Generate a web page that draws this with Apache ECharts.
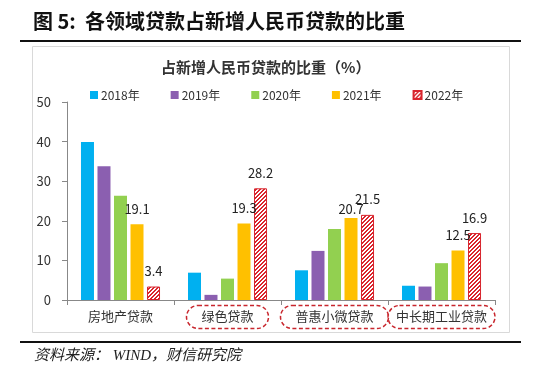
<!DOCTYPE html>
<html>
<head>
<meta charset="utf-8">
<script src="https://cdn.jsdelivr.net/npm/echarts@6/dist/echarts.min.js"></script>
<style>
html, body { margin: 0; padding: 0; background: #fff; }
#container { width: 538px; height: 375px; }
</style>
</head>
<body>
<div id="container"></div>
<script>
// 数据
var categories = ['房地产贷款', '绿色贷款', '普惠小微贷款', '中长期工业贷款'];
var years = ['2018年', '2019年', '2020年', '2021年', '2022年'];
var v2018 = [39.9, 6.9, 7.5, 3.6];
var v2019 = [33.8, 1.3, 12.4, 3.4];
var v2020 = [26.3, 5.4, 17.9, 9.3];
var v2021 = [19.1, 19.3, 20.7, 12.5];
var v2022 = [3.4, 28.2, 21.5, 16.9];
var yTicks = [0, 10, 20, 30, 40, 50];
var circled = ['绿色贷款', '普惠小微贷款', '中长期工业贷款'];	// 红色虚线圈出的类目

var font = '"Noto Sans CJK SC", "Noto Sans", sans-serif';

// 2022年斜线填充
function hatch() {
	var s = 4;
	var cv = document.createElement('canvas');
	cv.width = s; cv.height = s;
	var ctx = cv.getContext('2d');
	var img = ctx.createImageData(s, s);
	for (var y = 0; y < s; y++) {
		for (var x = 0; x < s; x++) {
			var red = ((x + y) % s) < 2;
			var i = (y * s + x) * 4;
			img.data[i] = red ? 218 : 255;
			img.data[i + 1] = red ? 37 : 255;
			img.data[i + 2] = red ? 45 : 255;
			img.data[i + 3] = 255;
		}
	}
	ctx.putImageData(img, 0, 0);
	return cv;
}

var dom = document.getElementById('container');
var myChart = echarts.init(dom, null, { renderer: 'canvas' });

var labelStyle = { show: true, position: 'top', distance: 9, fontSize: 13, color: '#222', fontFamily: font };

var series = [
	{ name: years[0], data: v2018, color: '#00b0f0' },
	{ name: years[1], data: v2019, color: '#8b5fb0' },
	{ name: years[2], data: v2020, color: '#92d050' },
	{ name: years[3], data: v2021, color: '#ffc000' },
	{ name: years[4], data: v2022, color: { image: hatch(), repeat: 'repeat' } }
].map(function (s, k) {
	var item = {
		name: s.name,
		type: 'bar',
		barWidth: 13,
		barGap: '27%',
		itemStyle: { color: s.color },
		data: s.data.slice()
	};
	if (k == 4) {
		item.itemStyle.borderColor = '#d8252d';
		item.itemStyle.borderWidth = 1;
	}
	if (k >= 3) {
		item.label = labelStyle;
	}
	if (k == 3) {
		item.data[2] = { value: v2021[2], label: { distance: 2 } };
	}
	return item;
});

var option = {
	animation: false,
	textStyle: { fontFamily: font },
	title: {
		text: '占新增人民币贷款的比重（%）',
		left: 156,
		top: 55,
		textStyle: { fontSize: 15, fontWeight: 'bold', color: '#333', fontFamily: font }
	},
	legend: {
		data: years,
		left: 85,
		top: 84,
		itemWidth: 8,
		itemHeight: 8,
		itemGap: 31,
		icon: 'rect',
		textStyle: { fontSize: 12, color: '#333', padding: [0, 0, 0, -2] }
	},
	grid: { left: 67, right: 43, top: 102, bottom: 75 },
	xAxis: {
		type: 'category',
		data: categories,
		axisLine: { lineStyle: { color: '#888' } },
		axisTick: { show: true, length: 5, lineStyle: { color: '#888' } },
		axisLabel: {
			margin: 10,
			interval: 0,
			formatter: function (v) {
				if (v == '中长期工业贷款') return '{w|' + v + '}';
				return circled.indexOf(v) >= 0 ? '{c|' + v + '}' : '{n|' + v + '}';
			},
			rich: {
				n: { fontSize: 13, lineHeight: 14, color: '#333', padding: [4, 14, 6, 14] },
				c: { fontSize: 13, lineHeight: 14, color: '#333', padding: [4, 15, 6, 15],
					borderColor: '#c8262d', borderWidth: 1.5, borderType: [4, 2.5], borderRadius: 13 },
				w: { fontSize: 13, lineHeight: 14, color: '#333', padding: [4, 8, 6, 8],
					borderColor: '#c8262d', borderWidth: 1.5, borderType: [4, 2.5], borderRadius: 13 }
			}
		}
	},
	yAxis: {
		type: 'value',
		min: yTicks[0],
		max: yTicks[yTicks.length - 1],
		interval: 10,
		axisLine: { show: true, lineStyle: { color: '#888' } },
		axisTick: { show: true, length: 5, lineStyle: { color: '#888' } },
		splitLine: { show: false },
		axisLabel: { margin: 16, fontSize: 13, color: '#333' }
	},
	series: series,
	graphic: [
		{ type: 'text', left: 33, top: 11,
			style: { text: '图 5:  各领域贷款占新增人民币贷款的比重', fontSize: 20, fontWeight: 'bold', fill: '#111', fontFamily: font } },
		{ type: 'rect', shape: { x: 20, y: 40, width: 501, height: 2 }, style: { fill: '#111' } },
		{ type: 'rect', shape: { x: 32.5, y: 46.5, width: 477, height: 286 }, style: { fill: 'none', stroke: '#d9d9d9', lineWidth: 1 }, z: -1 },
		{ type: 'rect', shape: { x: 20, y: 341, width: 501, height: 2 }, style: { fill: '#111' } },
		{ type: 'text', left: 34, top: 349,
			style: { text: '资料来源： WIND，财信研究院', fontSize: 15, fontStyle: 'italic', fill: '#222',
				fontFamily: '"Liberation Serif", "Noto Sans CJK SC", serif' } }
	]
};

myChart.setOption(option);
</script>
</body>
</html>
